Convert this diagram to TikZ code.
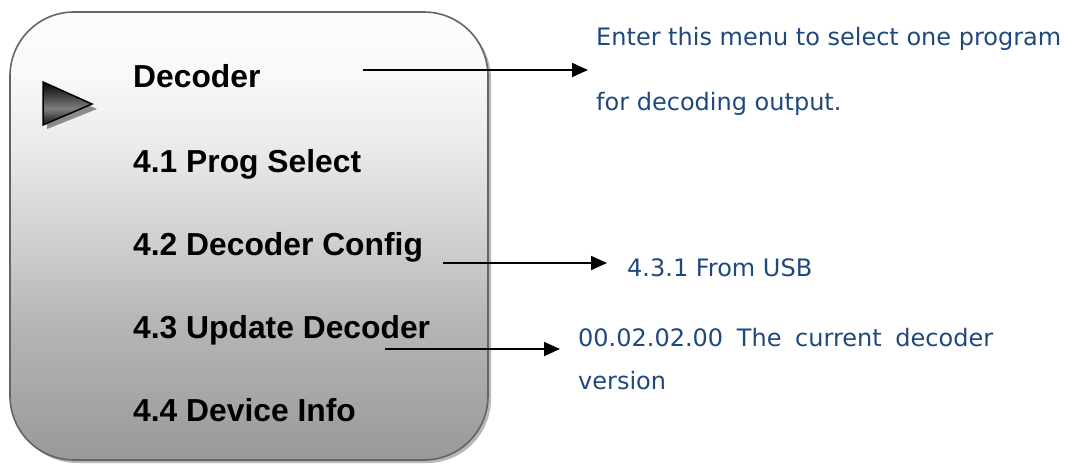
\documentclass[tikz,border=0pt]{standalone}
\usepackage{fontspec}
\usetikzlibrary{arrows.meta,shadows}
\newfontfamily\menufont{Liberation Sans}
\newfontfamily\notefont{DejaVu Sans}
\definecolor{notecol}{RGB}{31,73,125}
\definecolor{framecol}{RGB}{100,100,100}

% vertical fade of the menu panel: light at the top, mid grey at the bottom
\pgfdeclareverticalshading{panelshade}{100bp}{%
  rgb(0bp)=(0.60,0.60,0.60);
  rgb(25bp)=(0.60,0.60,0.60);
  rgb(40bp)=(0.71,0.71,0.71);
  rgb(50bp)=(0.82,0.82,0.82);
  rgb(60bp)=(0.92,0.92,0.92);
  rgb(68bp)=(0.975,0.975,0.975);
  rgb(75bp)=(0.99,0.99,0.99);
  rgb(100bp)=(0.99,0.99,0.99)}
% glossy dark fill of the selection pointer
\pgfdeclareverticalshading{pointershade}{100bp}{%
  rgb(0bp)=(0.05,0.05,0.05);
  rgb(25bp)=(0.06,0.06,0.06);
  rgb(44bp)=(0.50,0.50,0.50);
  rgb(56bp)=(0.30,0.30,0.30);
  rgb(75bp)=(0.02,0.02,0.02);
  rgb(100bp)=(0.02,0.02,0.02)}

\tikzset{
  panel/.style={draw=framecol, line width=1.6pt, rounded corners=64pt,
    shading=panelshade, minimum width=478pt, minimum height=448pt,
    inner sep=0pt,
    drop shadow={shadow xshift=3pt, shadow yshift=-3pt, fill=black!28, opacity=1}},
  item/.style={anchor=base west, inner sep=0pt,
    font=\menufont\bfseries\fontsize{31.8}{36}\selectfont},
  note/.style={anchor=base west, inner sep=0pt, text=notecol,
    font=\notefont\fontsize{24}{28}\selectfont},
  link/.style={line width=1.8pt, -{Triangle[length=16pt,width=14pt]}}
}

\begin{document}
\begin{tikzpicture}[x=1pt,y=-1pt]
\useasboundingbox (0,0) rectangle (1065,463);

% menu panel
\node[panel] (menu) at (249,236) {};

% selection pointer with its shadow
\fill[black!45] (47,87) -- (97,109) -- (47,129) -- cycle;
\shade[shading=pointershade, draw=black, line width=1.5pt]
  (43,82) -- (92,104) -- (43,125) -- cycle;

% menu entries
\node[item] (dec)  at (133,87)  {Decoder};
\node[item] (prog) at (133,172) {4.1 Prog Select};
\node[item] (conf) at (133,255) {4.2 Decoder Config};
\node[item] (upd)  at (133,338) {4.3 Update Decoder};
\node[item] (info) at (133,421) {4.4 Device Info};

% explanatory notes
\node[note] (n1a) at (596,45)  {Enter this menu to select one program};
\node[note] (n1b) at (596,110) {for decoding output.};
\node[note] (n2)  at (627,276) {4.3.1 From USB};
\node[note] (n3a) at (578,346) {\makebox[415pt][s]{00.02.02.00 The current decoder}};
\node[note] (n3b) at (578,389) {version};

% connectors
\coordinate (s1) at (363,70);  \coordinate (e1) at (588,70);
\coordinate (s2) at (443,263); \coordinate (e2) at (607,263);
\coordinate (s3) at (385,349); \coordinate (e3) at (560,349);
\draw[link] (s1) -- (e1);
\draw[link] (s2) -- (e2);
\draw[link] (s3) -- (e3);
\end{tikzpicture}
\end{document}
